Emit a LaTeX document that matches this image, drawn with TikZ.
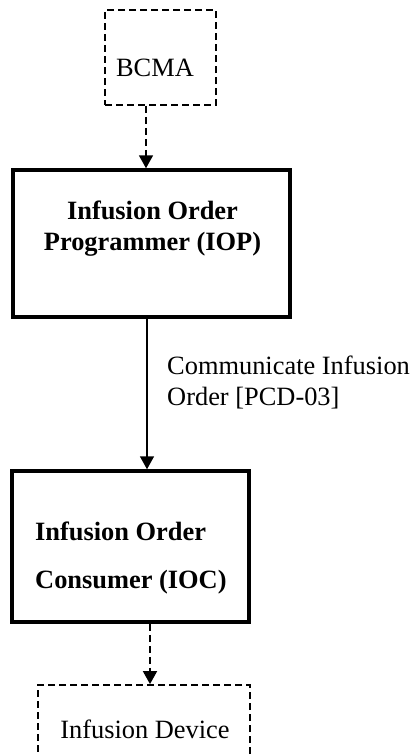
\documentclass[tikz,border=0pt]{standalone}
\usepackage{fontspec}
\setmainfont{Liberation Serif}
\usetikzlibrary{arrows.meta}
\begin{document}
\begin{tikzpicture}[x=1pt,y=-1pt,
  txt/.style={inner sep=0pt,font=\fontsize{26.4}{31}\selectfont},
  dbox/.style={draw,line width=1.8pt,dash pattern=on 7pt off 4pt,inner sep=0pt},
  sbox/.style={draw,line width=3.5pt,inner sep=0pt},
  tip/.style={-{Triangle[length=13pt,width=14pt]}},
  darrow/.style={tip,line width=1.8pt,dash pattern=on 7pt off 4pt},
  sarrow/.style={tip,line width=1.5pt}]
\clip (0,0) rectangle (415,756);
% boxes
\node[dbox,minimum width=111pt,minimum height=95pt] (bcma) at (160.5,57.5) {};
\node[sbox,minimum width=277pt,minimum height=147pt] (iop) at (151.5,243.5) {};
\node[sbox,minimum width=237pt,minimum height=151pt] (ioc) at (130.5,546.5) {};
\node[dbox,minimum width=212pt,minimum height=110pt] (dev) at (144,740) {};
% texts
\node[txt,anchor=base] (bcmaT) at (155,76) {BCMA};
\node[txt,anchor=base,align=center,font=\fontsize{26.4}{31}\selectfont\bfseries] (iopT) at (152.5,250) {Infusion Order\\Programmer (IOP)};
\node[txt,anchor=base west,align=left,font=\fontsize{26.4}{48}\selectfont\bfseries] (iocT) at (35,588) {Infusion Order\\Consumer (IOC)};
\node[txt,anchor=base west,align=left] (lbl) at (167,405) {Communicate Infusion\\Order [PCD-03]};
\node[txt,anchor=base] (devT) at (145,738) {Infusion Device};
% connectors
\draw[darrow] ([xshift=-14.5pt]bcma.south) -- ([xshift=-14.5pt]bcma.south |- iop.north);
\draw[sarrow] ([xshift=-4.5pt]iop.south) -- ([xshift=-4.5pt]iop.south |- ioc.north);
\draw[darrow] ([xshift=19.5pt]ioc.south) -- ([xshift=19.5pt]ioc.south |- dev.north);
\end{tikzpicture}
\end{document}
